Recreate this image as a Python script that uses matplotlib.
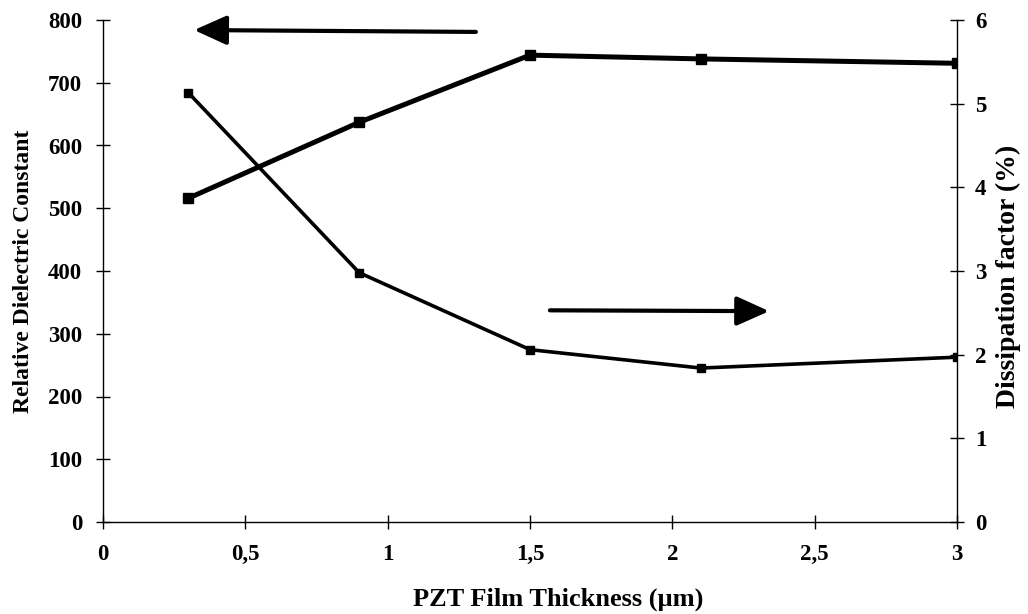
import matplotlib
matplotlib.use("Agg")
import matplotlib.pyplot as plt

thickness = [0.3, 0.9, 1.5, 2.1, 3.0]
dielectric = [516, 637, 744, 738, 731]
dissipation = [5.13, 2.98, 2.06, 1.84, 1.97]
x_ticks = [0, 0.5, 1, 1.5, 2, 2.5, 3]
x_ticklabels = ["0", "0,5", "1", "1,5", "2", "2,5", "3"]
left_ticks = [0, 100, 200, 300, 400, 500, 600, 700, 800]
right_ticks = [0, 1, 2, 3, 4, 5, 6]

plt.rcParams['font.family'] = ['Liberation Serif', 'DejaVu Serif']
plt.rcParams['font.weight'] = 'bold'

fig = plt.figure(figsize=(10.28, 6.14), dpi=100)
ax = fig.add_axes([103/1028, 1-522/614, (957-103)/1028, (522-20)/614])
ax2 = ax.twinx()

ax.plot(thickness, dielectric, color='black', lw=3.6, marker='s', ms=7, solid_joinstyle='round')
ax2.plot(thickness, dissipation, color='black', lw=2.6, marker='s', ms=6, solid_joinstyle='round')

ax.set_xlim(0, 3)
ax.set_ylim(0, 800)
ax2.set_ylim(0, 6)
ax.set_xticks(x_ticks)
ax.set_xticklabels(x_ticklabels)
ax.set_yticks(left_ticks)
ax2.set_yticks(right_ticks)

for a in (ax, ax2):
    a.spines['top'].set_visible(False)
    for s in a.spines.values():
        s.set_linewidth(1.0)
ax.spines['right'].set_visible(False)
ax2.spines['left'].set_visible(False)
ax2.spines['bottom'].set_visible(False)

ax.tick_params(axis='y', direction='inout', length=10, width=1, pad=10, labelsize=16.5)
ax.tick_params(axis='x', direction='inout', length=10, width=1, pad=11, labelsize=16.5)
ax2.tick_params(axis='y', direction='inout', length=10, width=1, pad=8, labelsize=16.5)

ax.set_xlabel('PZT Film Thickness (µm)', fontsize=19, fontweight='bold')
ax.xaxis.set_label_coords(0.533, -0.131)
ax.set_ylabel('Relative Dielectric Constant', fontsize=17, fontweight='bold')
ax.yaxis.set_label_coords(-0.081, 0.50)
ax2.set_ylabel('Dissipation factor (%)', fontsize=20, fontweight='bold')
ax2.yaxis.set_label_coords(1.046, 0.49)

# Arrows indicating axis association
style = '-|>,head_length=2.0,head_width=0.9'
ax.annotate('', xy=(0.32, 784), xytext=(1.31, 781),
            arrowprops=dict(arrowstyle=style, lw=3, color='black', shrinkA=0, shrinkB=0))
ax2.annotate('', xy=(2.34, 2.52), xytext=(1.57, 2.53),
             arrowprops=dict(arrowstyle=style, lw=3, color='black', shrinkA=0, shrinkB=0))

fig.savefig('out.png', dpi=100)
